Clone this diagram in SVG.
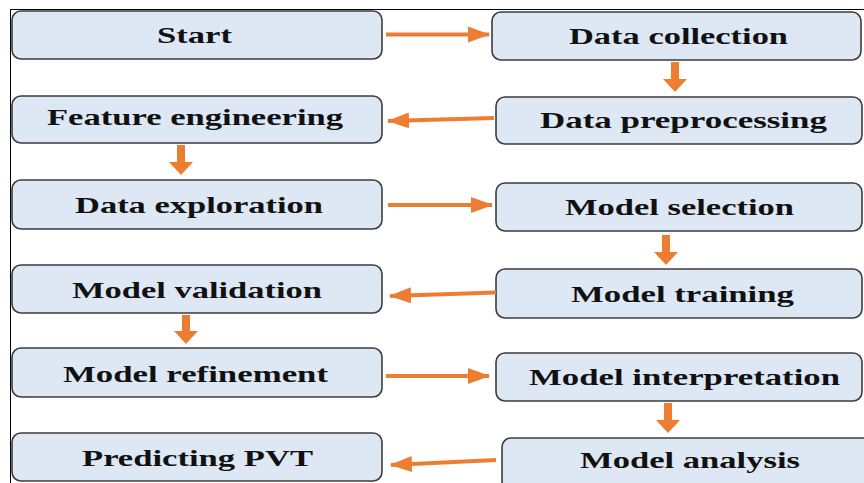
<svg xmlns="http://www.w3.org/2000/svg" width="864" height="483" viewBox="0 0 864 483">
<defs>
<style>
.box{fill:#dde8f4;stroke:#3c3c3c;stroke-width:1.6}
.lbl{font-family:"Liberation Serif","Times New Roman",serif;font-weight:bold;font-size:23px;fill:#111}
.conn{stroke:#ed7d31;stroke-width:4;fill:none}
.head{fill:#ed7d31}
</style>
<marker id="ah" markerUnits="userSpaceOnUse" markerWidth="22" markerHeight="16" refX="21" refY="8" orient="auto">
<path d="M0,0 L22,8 L0,16 Z" fill="#ed7d31"/>
</marker>
</defs>
<rect width="864" height="483" fill="#fff"/>
<path d="M10.5,483 V9.5 H864" fill="none" stroke="#000" stroke-width="1"/>

<g id="n-start"><rect class="box" x="12" y="11" width="370" height="48" rx="9"/><text class="lbl" x="157" y="43" textLength="75" lengthAdjust="spacingAndGlyphs">Start</text></g>
<g id="n-collection"><rect class="box" x="492" y="12" width="369" height="48" rx="9"/><text class="lbl" x="569" y="44" textLength="219" lengthAdjust="spacingAndGlyphs">Data collection</text></g>
<g id="n-feature"><rect class="box" x="12" y="96" width="370" height="47" rx="9"/><text class="lbl" x="47" y="125" textLength="296" lengthAdjust="spacingAndGlyphs">Feature engineering</text></g>
<g id="n-preprocessing"><rect class="box" x="496" y="97" width="366" height="47" rx="9"/><text class="lbl" x="540" y="128" textLength="287" lengthAdjust="spacingAndGlyphs">Data preprocessing</text></g>
<g id="n-exploration"><rect class="box" x="12" y="180" width="370" height="49" rx="9"/><text class="lbl" x="75" y="213" textLength="248" lengthAdjust="spacingAndGlyphs">Data exploration</text></g>
<g id="n-selection"><rect class="box" x="496" y="183" width="366" height="48" rx="9"/><text class="lbl" x="565" y="215" textLength="229" lengthAdjust="spacingAndGlyphs">Model selection</text></g>
<g id="n-validation"><rect class="box" x="12" y="265" width="370" height="48" rx="9"/><text class="lbl" x="72" y="298" textLength="250" lengthAdjust="spacingAndGlyphs">Model validation</text></g>
<g id="n-training"><rect class="box" x="496" y="269" width="366" height="49" rx="9"/><text class="lbl" x="571" y="302" textLength="223" lengthAdjust="spacingAndGlyphs">Model training</text></g>
<g id="n-refinement"><rect class="box" x="12" y="348" width="370" height="49" rx="9"/><text class="lbl" x="63" y="382" textLength="265" lengthAdjust="spacingAndGlyphs">Model refinement</text></g>
<g id="n-interpretation"><rect class="box" x="496" y="353" width="366" height="48" rx="9"/><text class="lbl" x="529" y="385" textLength="311" lengthAdjust="spacingAndGlyphs">Model interpretation</text></g>
<g id="n-predicting"><rect class="box" x="12" y="433" width="370" height="48" rx="9"/><text class="lbl" x="82" y="466" textLength="231" lengthAdjust="spacingAndGlyphs">Predicting PVT</text></g>
<g id="n-analysis"><rect class="box" x="502" y="438" width="370" height="52" rx="9"/><text class="lbl" x="580" y="468" textLength="220" lengthAdjust="spacingAndGlyphs">Model analysis</text></g>

<g id="connectors">
<line class="conn" x1="386" y1="34.5" x2="489" y2="34.5" marker-end="url(#ah)"/>
<path class="head" d="M671,62 H679 V79 H687 L675,92 L663,79 H671 Z"/>
<line class="conn" x1="494" y1="118" x2="388" y2="121" marker-end="url(#ah)"/>
<path class="head" d="M177,145 H185 V162 H193 L181,175 L169,162 H177 Z"/>
<line class="conn" x1="388" y1="205" x2="492" y2="205" marker-end="url(#ah)"/>
<path class="head" d="M662,235 H670 V252 H678 L666,265 L654,252 H662 Z"/>
<line class="conn" x1="496" y1="292.5" x2="390" y2="296" marker-end="url(#ah)"/>
<path class="head" d="M182,315 H190 V331 H198 L186,344 L174,331 H182 Z"/>
<line class="conn" x1="386" y1="376" x2="489" y2="376" marker-end="url(#ah)"/>
<path class="head" d="M664,403 H672 V420 H680 L668,433 L656,420 H664 Z"/>
<line class="conn" x1="496" y1="460" x2="391" y2="465" marker-end="url(#ah)"/>
</g>
</svg>
